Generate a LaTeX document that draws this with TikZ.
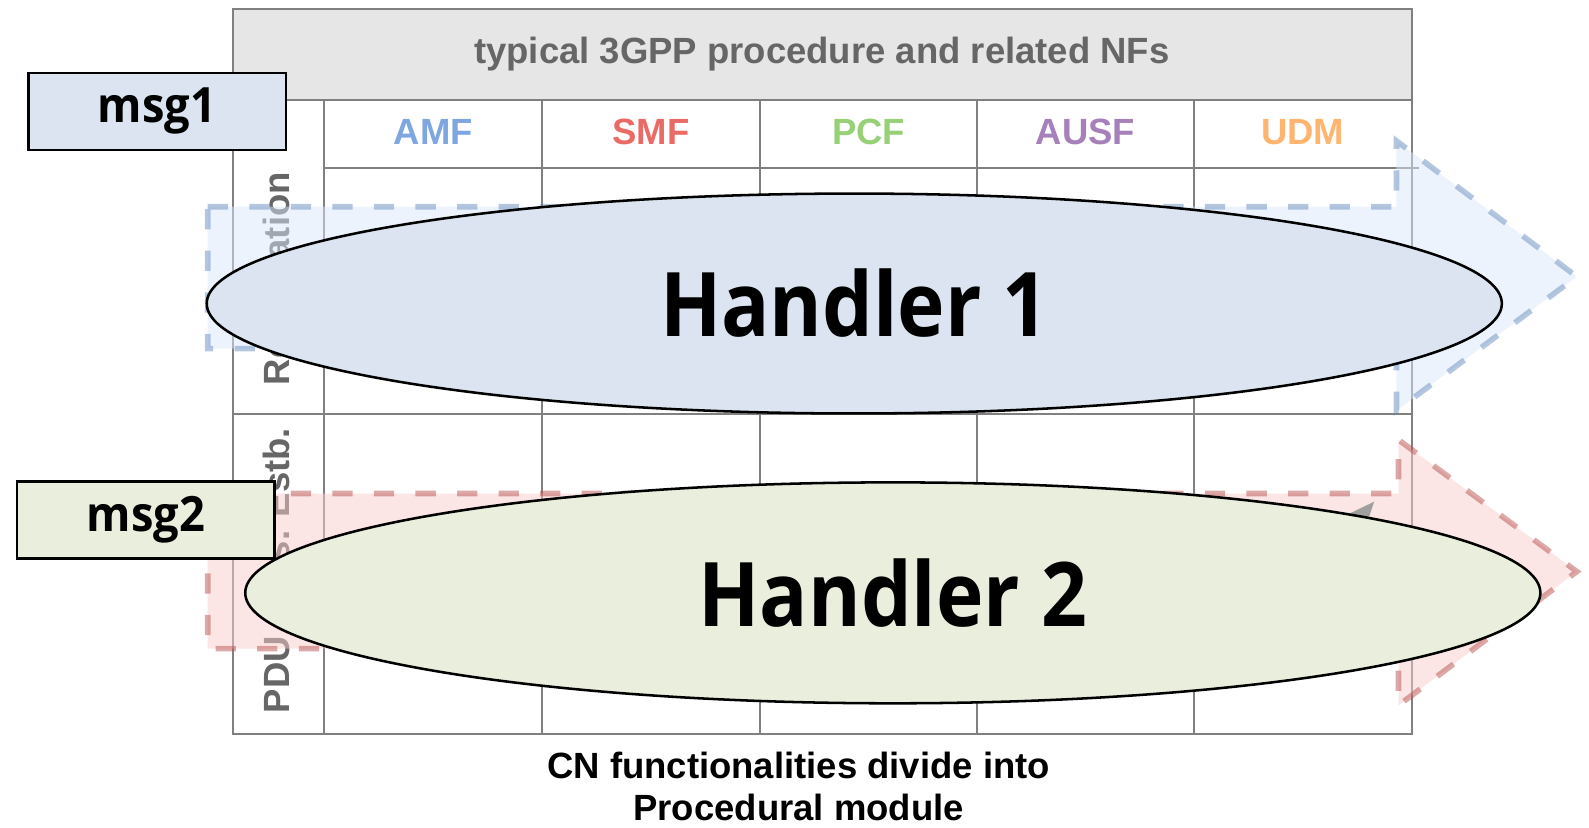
\documentclass[tikz,border=0pt]{standalone}
\usepackage{fontspec}
\setmainfont{Liberation Sans}
\newfontfamily\hfont{Open Sans}
\usetikzlibrary{shapes.geometric}

\definecolor{gridgray}{HTML}{808080}
\definecolor{headfill}{HTML}{E6E6E6}
\definecolor{headtext}{HTML}{666666}
\definecolor{amfc}{HTML}{7EA6E0}
\definecolor{smfc}{HTML}{EA6B66}
\definecolor{pcfc}{HTML}{97D077}
\definecolor{ausfc}{HTML}{A680B8}
\definecolor{udmc}{HTML}{FFB570}
\definecolor{bluefill}{HTML}{DBE4F0}
\definecolor{greenfill}{HTML}{EAEEDD}
\definecolor{flowbluefill}{HTML}{DAE8FC}
\definecolor{flowblueline}{HTML}{6C8EBF}
\definecolor{flowredfill}{HTML}{F8CECC}
\definecolor{flowredline}{HTML}{B85450}

\tikzset{
  gridline/.style={draw=gridgray, line width=2pt},
  lbl/.style={font=\fontsize{36}{40}\selectfont\bfseries, inner sep=0pt},
  nflabel/.style={lbl, anchor=base},
  rowlabel/.style={lbl, text=headtext, anchor=base, rotate=90},
  flowarrow/.style={line width=5.5pt, dash pattern=on 20pt off 21pt,
    fill opacity=0.5, draw opacity=0.5, line join=miter},
  handler/.style={ellipse, draw=black, line width=2.5pt, inner sep=0pt,
    font=\hfont\fontsize{88}{96}\selectfont\bfseries},
  msgbox/.style={rectangle, draw=black, line width=2.5pt, inner sep=0pt,
    font=\hfont\fontsize{48}{52}\selectfont\bfseries},
}

\begin{document}
\begin{tikzpicture}[x=1pt, y=-1pt]
\useasboundingbox (0,0) rectangle (1568,817);

% table: header band and frame
\fill[headfill] (230,9) rectangle (1393,99);
\draw[gridline] (230,9) rectangle (1393,724);
\draw[gridline] (230,99) -- (1393,99);
\draw[gridline] (320,166) -- (1400,166);
\draw[gridline] (230,409) -- (1393,409);
\foreach \cx in {320,535,750,964,1178}
  \draw[gridline] (\cx,99) -- (\cx,724);

\node[lbl, text=headtext, anchor=base] (title) at (811,63)
  {typical 3GPP procedure and related NFs};

% network function columns
\node[nflabel, text=amfc]  (amf)  at (427.5,143) {AMF};
\node[nflabel, text=smfc]  (smf)  at (642.5,143) {SMF};
\node[nflabel, text=pcfc]  (pcf)  at (857,143)   {PCF};
\node[nflabel, text=ausfc] (ausf) at (1071,143)  {AUSF};
\node[nflabel, text=udmc]  (udm)  at (1285.5,143){UDM};

% procedure rows
\node[rowlabel] (reg) at (286,275) {Registration};
\node[rowlabel] (pdu) at (286,563) {PDU Sess. Estb.};

% flow arrows across the rows
\path[flowarrow, fill=flowbluefill, draw=flowblueline]
  (205,204) -- (1378,204) -- (1378,139) -- (1556,273) -- (1378,405)
  -- (1378,344) -- (205,344) -- cycle;
\path[flowarrow, fill=flowredfill, draw=flowredline]
  (205,487) -- (1380,487) -- (1380,434) -- (1556,564) -- (1380,696)
  -- (1380,640) -- (205,640) -- cycle;

% small gray tip under the second handler
\fill[gray!75] (1356,495) -- (1325,510) -- (1350,513) -- cycle;

% handlers
\node[handler, fill=bluefill, minimum width=1278pt, minimum height=217pt]
  (h1) at (843,299.5) {\scalebox{0.9}[1]{Handler 1}};
\node[handler, fill=greenfill, minimum width=1278pt, minimum height=218pt]
  (h2) at (881,585) {\scalebox{0.9}[1]{Handler 2}};

% incoming messages
\node[msgbox, fill=bluefill, minimum width=254pt, minimum height=76pt]
  (m1) at (155,110) {\scalebox{0.93}[1]{msg1}};
\node[msgbox, fill=greenfill, minimum width=254pt, minimum height=76pt]
  (m2) at (144,513) {\scalebox{0.93}[1]{msg2}};

% caption
\node[lbl, anchor=base] (cap1) at (788,768) {CN functionalities divide into};
\node[lbl, anchor=base] (cap2) at (788,810) {Procedural module};
\end{tikzpicture}
\end{document}
